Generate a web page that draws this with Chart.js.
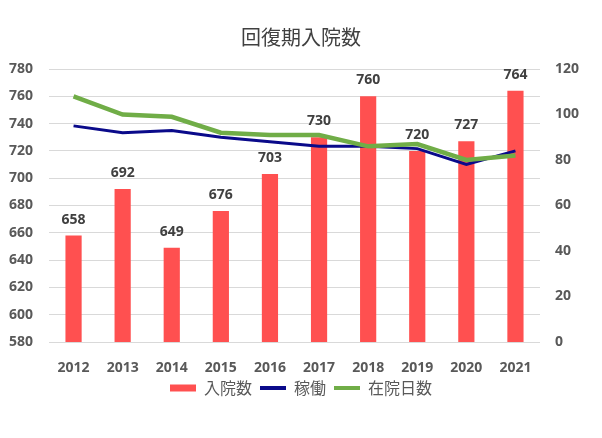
<!DOCTYPE html>
<html>
<head>
<meta charset="utf-8">
<script src="https://cdn.jsdelivr.net/npm/chart.js@4/dist/chart.umd.min.js"></script>
<style>
  html, body { margin: 0; padding: 0; background: #fff; }
  #wrap { width: 602px; height: 438px; }
</style>
</head>
<body>
<div id="wrap"><canvas id="c" width="602" height="438"></canvas></div>
<script>
// ---- data ----
const years = ['2012','2013','2014','2015','2016','2017','2018','2019','2020','2021'];
const admissions = [658, 692, 649, 676, 703, 730, 760, 720, 727, 764]; // 入院数 (左軸)
const occupancy  = [95, 92, 93, 90, 88, 86, 86, 85, 78, 84];            // 稼働 (右軸)
const stayDays   = [108, 100, 99, 92, 91, 91, 86, 87, 80, 82];          // 在院日数 (右軸)
const leftTicks  = [580, 600, 620, 640, 660, 680, 700, 720, 740, 760, 780];
const rightTicks = [0, 20, 40, 60, 80, 100, 120];

const TXT = '#595959';
const NUM_FONT = "'Open Sans', 'DejaVu Sans', sans-serif";
const JP_FONT = "'Noto Sans CJK JP', 'Noto Sans CJK SC', sans-serif";

// 棒の上に数値
const barLabels = {
  id: 'barLabels',
  afterDatasetsDraw(chart) {
    const meta = chart.getDatasetMeta(0);
    const ctx = chart.ctx;
    ctx.save();
    ctx.font = `bold 14px ${NUM_FONT}`;
    ctx.fillStyle = '#404040';
    ctx.textAlign = 'center';
    ctx.textBaseline = 'middle';
    meta.data.forEach((bar, i) => {
      ctx.fillText(String(admissions[i]), bar.x, bar.y - 16);
    });
    ctx.restore();
  }
};

new Chart(document.getElementById('c'), {
  data: {
    labels: years,
    datasets: [
      { type: 'bar', label: '入院数', data: admissions, yAxisID: 'y',
        backgroundColor: '#FF5050', borderWidth: 0, order: 2,
        categoryPercentage: 1, barPercentage: 0.33 },
      { type: 'line', label: '稼働', data: occupancy, yAxisID: 'y1',
        borderColor: '#0A0A8A', backgroundColor: '#0A0A8A', borderWidth: 3,
        pointRadius: 0, tension: 0, order: 1 },
      { type: 'line', label: '在院日数', data: stayDays, yAxisID: 'y1',
        borderColor: '#70AD47', backgroundColor: '#70AD47', borderWidth: 4.5,
        pointRadius: 0, tension: 0, order: 0 }
    ]
  },
  options: {
    responsive: false,
    animation: false,
    layout: { padding: { top: 15, bottom: 32, left: 0, right: 0 } },
    scales: {
      x: {
        grid: { display: false },
        border: { display: false },
        ticks: { color: TXT, font: { family: NUM_FONT, size: 14, weight: 'bold' }, padding: 10 },
        afterFit(s) { s.height = 30; }
      },
      y: {
        position: 'left', min: 580, max: 780,
        afterBuildTicks(s) { s.ticks = leftTicks.map(v => ({ value: v })); },
        grid: { color: '#D9D9D9', drawTicks: false },
        border: { display: false },
        ticks: { color: TXT, font: { family: NUM_FONT, size: 14, weight: 'bold' }, padding: 16 },
        afterFit(s) { s.width = 49; }
      },
      y1: {
        position: 'right', min: 0, max: 120,
        afterBuildTicks(s) { s.ticks = rightTicks.map(v => ({ value: v })); },
        grid: { display: false, drawTicks: false },
        border: { display: false },
        ticks: { color: TXT, font: { family: NUM_FONT, size: 14, weight: 'bold' }, padding: 15 },
        afterFit(s) { s.width = 62; }
      }
    },
    plugins: {
      title: {
        display: true, text: '回復期入院数', color: '#404040',
        font: { family: JP_FONT, size: 20, weight: 'normal' },
        padding: { top: 10, bottom: 20 }
      },
      legend: {
        position: 'bottom',
        labels: {
          color: TXT,
          font: { family: JP_FONT, size: 16 },
          usePointStyle: true, pointStyleWidth: 26, boxHeight: 7, padding: 8,
          generateLabels(chart) {
            const items = Chart.defaults.plugins.legend.labels.generateLabels(chart);
            items.sort((a, b) => a.datasetIndex - b.datasetIndex);
            items.forEach(it => {
              const ds = chart.data.datasets[it.datasetIndex];
              if (ds.type === 'bar') { it.pointStyle = 'rect'; it.lineWidth = 0; }
              else { it.pointStyle = 'line'; it.lineWidth = 4; it.strokeStyle = ds.borderColor; }
            });
            return items;
          }
        }
      },
      tooltip: { enabled: false }
    }
  },
  plugins: [barLabels]
});
</script>
</body>
</html>
